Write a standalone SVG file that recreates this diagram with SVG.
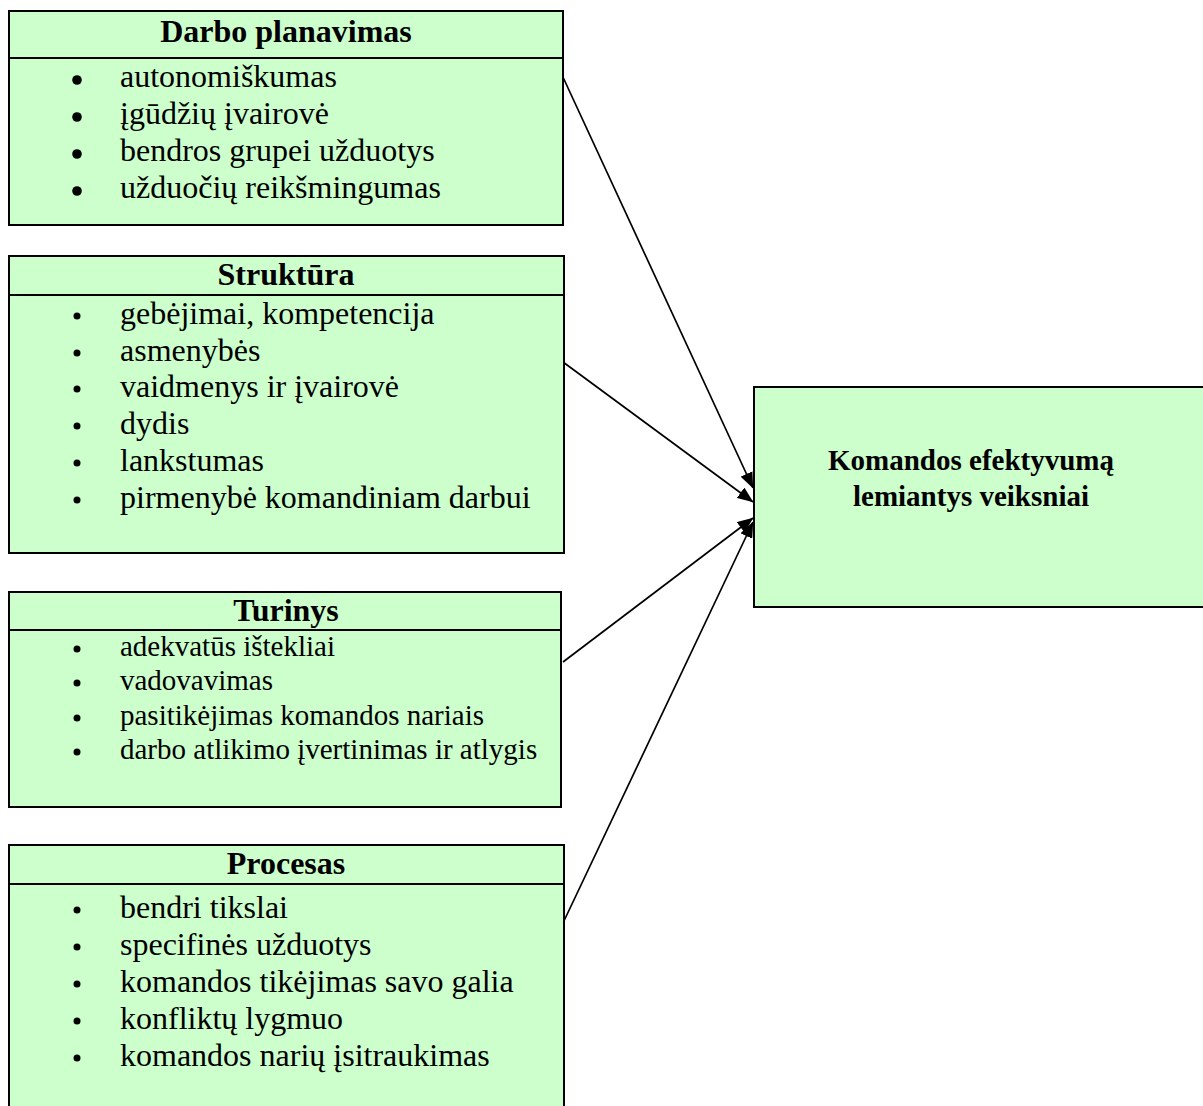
<svg xmlns="http://www.w3.org/2000/svg" width="1203" height="1106" viewBox="0 0 1203 1106">
<defs>
<style>
.box{fill:#CCFFCC;stroke:#000;stroke-width:2}
.div{stroke:#000;stroke-width:2}
.h{font-family:"Liberation Serif","Times New Roman",serif;font-weight:bold;font-size:32px;text-anchor:middle;fill:#000}
.hm{font-family:"Liberation Serif","Times New Roman",serif;font-weight:bold;font-size:29px;text-anchor:middle;fill:#000}
.t{font-family:"Liberation Serif","Times New Roman",serif;font-size:32px;fill:#000}
.ts{font-family:"Liberation Serif","Times New Roman",serif;font-size:29px;fill:#000}
.b{fill:#000}
.c{stroke:#000;stroke-width:1.7;fill:none;marker-end:url(#ah)}
</style>
<marker id="ah" markerWidth="16" markerHeight="13" refX="15.5" refY="6.5" orient="auto" markerUnits="userSpaceOnUse">
<path d="M0,0 L16,6.5 L0,13 z" fill="#000"/>
</marker>
</defs>
<rect width="1203" height="1106" fill="#fff"/>
<g id="connectors">
<line class="c" x1="562" y1="75" x2="753" y2="488"/>
<line class="c" x1="563" y1="362" x2="753" y2="502"/>
<line class="c" x1="563" y1="662" x2="753" y2="518"/>
<line class="c" x1="563" y1="923" x2="753" y2="522"/>
</g>
<g id="darbo">
<rect class="box" x="9" y="11" width="554" height="214"/>
<line class="div" x1="9" y1="58" x2="563" y2="58"/>
<text class="h" x="286" y="42">Darbo planavimas</text>
<circle class="b" cx="77" cy="80" r="4.8"/><text class="t" x="120" y="87">autonomiškumas</text>
<circle class="b" cx="77" cy="117" r="4.8"/><text class="t" x="120" y="124">įgūdžių įvairovė</text>
<circle class="b" cx="77" cy="154" r="4.8"/><text class="t" x="120" y="161">bendros grupei užduotys</text>
<circle class="b" cx="77" cy="191" r="4.8"/><text class="t" x="120" y="198">užduočių reikšmingumas</text>
</g>
<g id="struktura">
<rect class="box" x="9" y="256" width="555" height="297"/>
<line class="div" x1="9" y1="295" x2="564" y2="295"/>
<text class="h" x="286" y="285">Struktūra</text>
<circle class="b" cx="77" cy="316" r="3.5"/><text class="t" x="120" y="324">gebėjimai, kompetencija</text>
<circle class="b" cx="77" cy="353" r="3.5"/><text class="t" x="120" y="361">asmenybės</text>
<circle class="b" cx="77" cy="389" r="3.5"/><text class="t" x="120" y="397">vaidmenys ir įvairovė</text>
<circle class="b" cx="77" cy="426" r="3.5"/><text class="t" x="120" y="434">dydis</text>
<circle class="b" cx="77" cy="463" r="3.5"/><text class="t" x="120" y="471">lankstumas</text>
<circle class="b" cx="77" cy="500" r="3.5"/><text class="t" x="120" y="508">pirmenybė komandiniam darbui</text>
</g>
<g id="turinys">
<rect class="box" x="9" y="592" width="552" height="215"/>
<line class="div" x1="9" y1="630" x2="561" y2="630"/>
<text class="h" x="286" y="621">Turinys</text>
<circle class="b" cx="77" cy="649" r="3.5"/><text class="ts" x="120" y="656">adekvatūs ištekliai</text>
<circle class="b" cx="77" cy="683" r="3.5"/><text class="ts" x="120" y="690">vadovavimas</text>
<circle class="b" cx="77" cy="718" r="3.5"/><text class="ts" x="120" y="725">pasitikėjimas komandos nariais</text>
<circle class="b" cx="77" cy="752" r="3.5"/><text class="ts" x="120" y="759">darbo atlikimo įvertinimas ir atlygis</text>
</g>
<g id="procesas">
<rect class="box" x="9" y="845" width="555" height="270"/>
<line class="div" x1="9" y1="884" x2="564" y2="884"/>
<text class="h" x="286" y="874">Procesas</text>
<circle class="b" cx="77" cy="910" r="3.5"/><text class="t" x="120" y="918">bendri tikslai</text>
<circle class="b" cx="77" cy="947" r="3.5"/><text class="t" x="120" y="955">specifinės užduotys</text>
<circle class="b" cx="77" cy="984" r="3.5"/><text class="t" x="120" y="992">komandos tikėjimas savo galia</text>
<circle class="b" cx="77" cy="1021" r="3.5"/><text class="t" x="120" y="1029">konfliktų lygmuo</text>
<circle class="b" cx="77" cy="1058" r="3.5"/><text class="t" x="120" y="1066">komandos narių įsitraukimas</text>
</g>
<g id="komandos">
<rect class="box" x="754" y="387" width="452" height="220"/>
<text class="hm" x="971" y="470">Komandos efektyvumą</text>
<text class="hm" x="971" y="506">lemiantys veiksniai</text>
</g>
</svg>
